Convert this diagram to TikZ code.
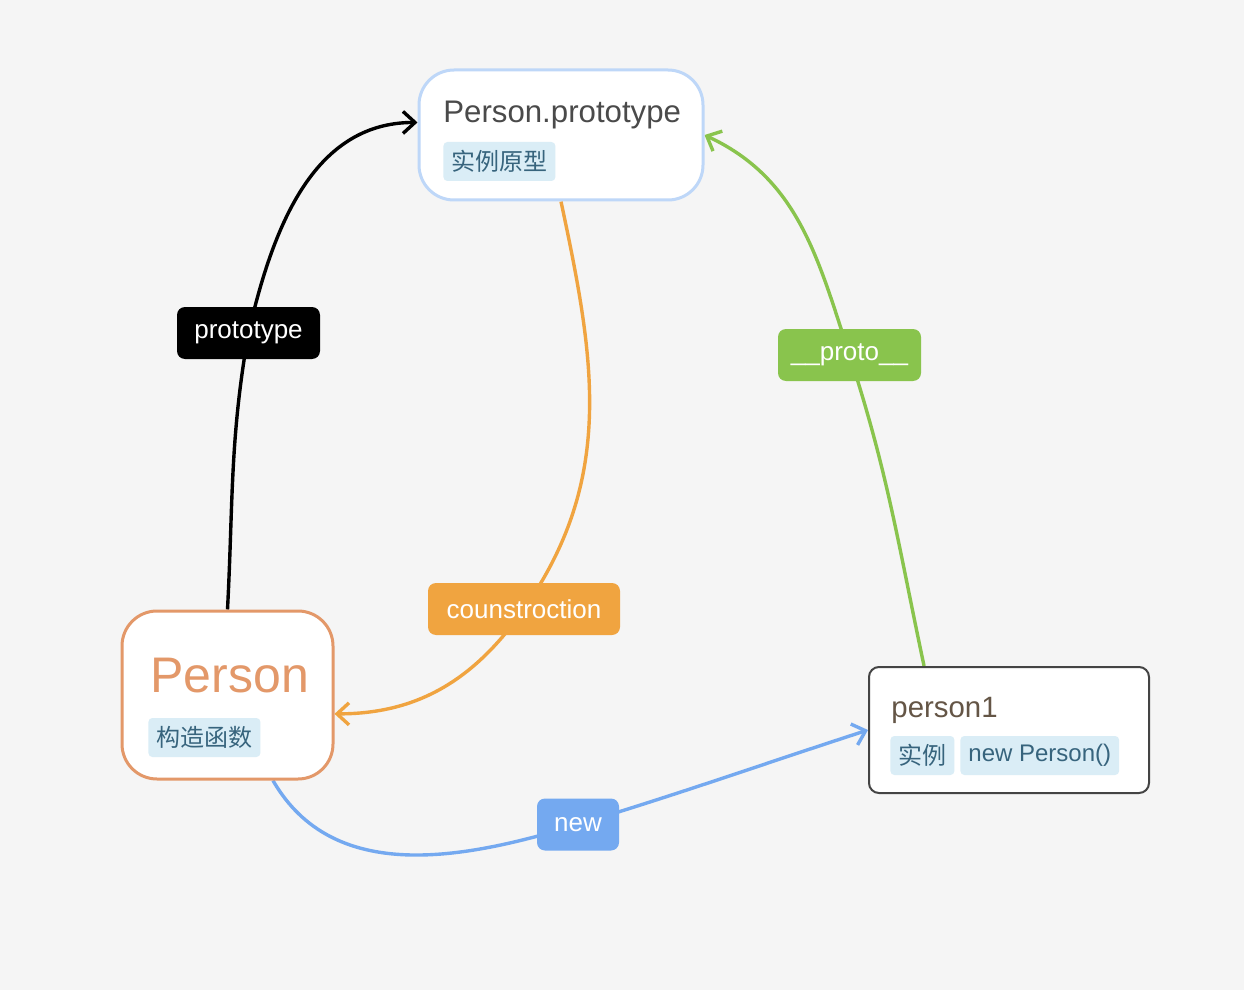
\documentclass[tikz,border=0pt]{standalone}
\usepackage{fontspec}
\setmainfont{Liberation Sans}
\newfontfamily\cjk{Noto Sans CJK SC}
\usetikzlibrary{arrows.meta,backgrounds}
\definecolor{pagebg}{RGB}{245,245,245}
\definecolor{protoblue}{RGB}{190,215,248}
\definecolor{titlegray}{RGB}{74,74,74}
\definecolor{tagbg}{RGB}{218,237,246}
\definecolor{tagfg}{RGB}{55,100,125}
\definecolor{ctororange}{RGB}{227,152,105}
\definecolor{instgray}{RGB}{68,68,68}
\definecolor{instbrown}{RGB}{100,85,70}
\definecolor{consorange}{RGB}{240,164,64}
\definecolor{protogreen}{RGB}{137,196,77}
\definecolor{newblue}{RGB}{116,169,240}
\begin{document}
\begin{tikzpicture}[x=0.5pt, y=0.5pt, line cap=round, line join=round,
    box/.style={draw, fill=white, rounded corners=17.5pt, line width=1.5pt, inner sep=0pt},
    title/.style={anchor=base west, inner sep=0pt},
    tag/.style={fill=tagbg, text=tagfg, rounded corners=2pt, minimum height=19.5pt,
        inner xsep=4pt, inner ysep=0pt, anchor=west, font=\fontsize{12}{14}\selectfont},
    edgelabel/.style={text=white, rounded corners=4pt, minimum height=26pt, inner sep=0pt,
        font=\fontsize{13}{15}\selectfont},
    link/.style={line width=1.7pt},
    arr/.style={link, -{Straight Barb[length=6pt,width=11pt]}}]
    % boxes
    \node[box, draw=protoblue, minimum width=142pt, minimum height=65pt] (proto) at (561,-135) {};
    \node[title, text=titlegray, font=\fontsize{15.6}{18}\selectfont] (prototitle) at (443,-123) {Person.prototype};
    \node[tag] (prototag) at (443,-161.5) {\cjk 实例原型};
    \node[box, draw=ctororange, minimum width=105.5pt, minimum height=84pt] (person) at (227.5,-695) {};
    \node[title, text=ctororange, font=\fontsize{25}{30}\selectfont] (persontitle) at (150,-692) {Person};
    \node[tag] (persontag) at (148,-737.5) {\cjk 构造函数};
    \node[box, draw=instgray, rounded corners=5pt, line width=1pt, minimum width=140pt, minimum height=63pt] (person1) at (1009,-730) {};
    \node[title, text=instbrown, font=\fontsize{14.7}{18}\selectfont] (person1title) at (891,-717) {person1};
    \node[tag] (person1tag) at (890,-755.5) {\cjk 实例};
    \node[tag] (person1new) at (960,-755.5) {new Person()};
    % labels on the links
    \node[edgelabel, fill=black, minimum width=71.5pt] (lblproto) at (248.5,-333) {prototype};
    \node[edgelabel, fill=consorange, minimum width=96pt] (lblcons) at (524,-609) {counstroction};
    \node[edgelabel, fill=protogreen, minimum width=71.5pt] (lbldunder) at (849.5,-355) {\_\_proto\_\_};
    \node[edgelabel, fill=newblue, minimum width=41pt] (lblnew) at (578,-824.5) {new};
    \begin{scope}[on background layer]
        \fill[pagebg] (0,0) rectangle (1244,-990);
        \draw[link] (person.north) to[out=87, in=-100] (lblproto.center);
        \draw[arr] (lblproto.center) to[out=77, in=180] (proto.175);
        \draw[link, consorange] (proto.south) to[out=-78, in=55] (lblcons.center);
        \draw[arr, consorange] (lblcons.center) to[out=235, in=0] (person.-10);
        \draw[link, protogreen] (person1.143) to[out=102, in=-72] (lbldunder.center);
        \draw[arr, protogreen] (lbldunder.center) to[out=108, in=-25] (proto.east);
        \draw[link, newblue] (person.-62) to[out=-60, in=197] (lblnew.center);
        \draw[arr, newblue] (lblnew.center) to[out=17, in=198] (person1.west);
    \end{scope}
\end{tikzpicture}
\end{document}
